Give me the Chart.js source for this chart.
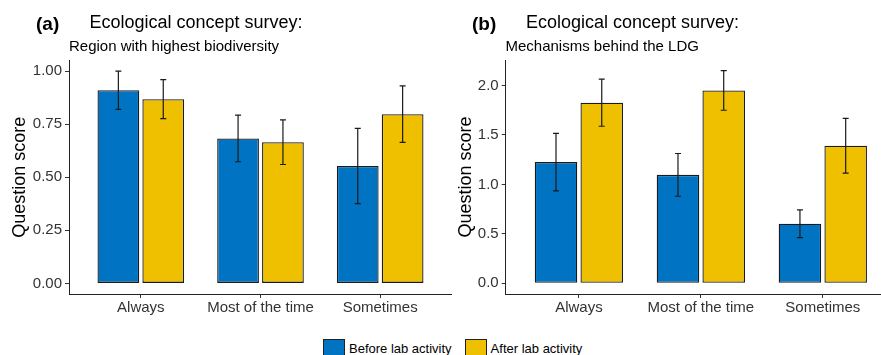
<!DOCTYPE html>
<html>
<head>
<meta charset="utf-8">
<script src="https://cdn.jsdelivr.net/npm/chart.js@4.4.1/dist/chart.umd.min.js"></script>
<style>
  html, body { margin: 0; padding: 0; background: #fff; }
  #fig { position: relative; width: 881px; height: 355px; overflow: hidden; background: #fff;
         font-family: 'Liberation Sans', Arial, sans-serif; color: #000; }
  #fig canvas { position: absolute; top: 0; }
  .txt { position: absolute; white-space: nowrap; line-height: 1; }
  .tag { font-size: 19px; font-weight: bold; }
  .ttl { font-size: 18px; }
  .sub { font-size: 15px; }
  #legend { position: absolute; left: 323px; top: 339px; display: flex; align-items: flex-start; font-size: 13px; line-height: 13px; }
  #legend .item { display: flex; align-items: flex-start; margin-right: 13px; }
  #legend .box { width: 20px; height: 20px; border: 1px solid #222; margin-right: 4px; }
  #legend .lbl { margin-top: 3px; }
</style>
</head>
<body>
<div id="fig">
  <canvas id="chartA" width="452" height="330" style="left:0"></canvas>
  <canvas id="chartB" width="456" height="330" style="left:440px"></canvas>

  <div class="txt tag" style="left:36px;top:14.4px">(a)</div>
  <div class="txt ttl" style="left:89.5px;top:13.1px">Ecological concept survey:</div>
  <div class="txt sub" style="left:69px;top:38px">Region with highest biodiversity</div>

  <div class="txt tag" style="left:472px;top:14.4px">(b)</div>
  <div class="txt ttl" style="left:526px;top:13.1px">Ecological concept survey:</div>
  <div class="txt sub" style="left:505.5px;top:38px">Mechanisms behind the LDG</div>

  <div id="legend"></div>
</div>

<script>
// ---- data ----
const categories = ['Always', 'Most of the time', 'Sometimes'];
const seriesNames = ['Before lab activity', 'After lab activity'];
const seriesColors = ['#0073C2', '#EFC000'];

// (a) Region with highest biodiversity
const beforeA = [0.91, 0.683, 0.553];
const beforeErrA = [0.09, 0.11, 0.177];
const afterA = [0.868, 0.665, 0.797];
const afterErrA = [0.092, 0.105, 0.133];
const yTicksA = [0, 0.25, 0.5, 0.75, 1];
const yTickLabelsA = ['0.00', '0.25', '0.50', '0.75', '1.00'];

// (b) Mechanisms behind the LDG
const beforeB = [1.225, 1.096, 0.603];
const beforeErrB = [0.29, 0.216, 0.14];
const afterB = [1.825, 1.949, 1.39];
const afterErrB = [0.238, 0.2, 0.277];
const yTicksB = [0, 0.5, 1, 1.5, 2];
const yTickLabelsB = ['0.0', '0.5', '1.0', '1.5', '2.0'];

Chart.defaults.font.family = "'Liberation Sans', Arial, sans-serif";

// error bars drawn from the y scale of each chart
const errorBars = {
  id: 'errorBars',
  afterDatasetsDraw(chart) {
    const { ctx } = chart;
    const yScale = chart.scales.y;
    ctx.save();
    ctx.strokeStyle = '#1a1a1a';
    ctx.lineWidth = 1.2;
    chart.data.datasets.forEach((ds, di) => {
      const meta = chart.getDatasetMeta(di);
      meta.data.forEach((bar, i) => {
        const v = ds.data[i].y;
        const e = ds.errors[i];
        const top = yScale.getPixelForValue(v + e);
        const bot = yScale.getPixelForValue(v - e);
        ctx.beginPath();
        ctx.moveTo(bar.x, top); ctx.lineTo(bar.x, bot);
        ctx.moveTo(bar.x - 3, top); ctx.lineTo(bar.x + 3, top);
        ctx.moveTo(bar.x - 3, bot); ctx.lineTo(bar.x + 3, bot);
        ctx.stroke();
      });
    });
    ctx.restore();
  }
};

const toPoints = vals => vals.map((v, i) => ({ x: i + 1, y: v }));

function makePanel(id, before, beforeErr, after, afterErr, yMin, yMax, yTicks, yTickLabels, axisWidth, titlePad, padTop) {
  const ctx = document.getElementById(id).getContext('2d');
  const axisBorder = { display: true, color: '#222', width: 1 };
  const barStyle = { borderColor: '#1a1a1a', borderWidth: 1.3, borderSkipped: false, inflateAmount: 0 };
  return new Chart(ctx, {
    type: 'bar',
    data: {
      datasets: [
        { label: seriesNames[0], data: toPoints(before), errors: beforeErr, backgroundColor: seriesColors[0], ...barStyle },
        { label: seriesNames[1], data: toPoints(after), errors: afterErr, backgroundColor: seriesColors[1], ...barStyle }
      ]
    },
    options: {
      responsive: false,
      animation: false,
      devicePixelRatio: 1,
      categoryPercentage: 0.75,
      barPercentage: 0.93,
      layout: { padding: { top: padTop, right: 0, bottom: 0, left: 0 } },
      plugins: { legend: { display: false }, tooltip: { enabled: false } },
      scales: {
        x: {
          type: 'linear',
          min: 0.4,
          max: 3.6,
          offset: false,
          afterBuildTicks: s => { s.ticks = categories.map((c, i) => ({ value: i + 1 })); },
          afterFit: s => { s.height = 36; },
          ticks: { callback: (v, i) => categories[i], font: { size: 15 }, color: '#333', padding: 1, maxRotation: 0, autoSkip: false },
          grid: { offset: false, drawOnChartArea: false, drawTicks: true, tickLength: 4, color: '#333', tickColor: '#333', lineWidth: 1 },
          border: axisBorder
        },
        y: {
          min: yMin,
          max: yMax,
          afterBuildTicks: s => { s.ticks = yTicks.map(v => ({ value: v })); },
          afterFit: s => { s.width = axisWidth; },
          ticks: { callback: (v, i) => yTickLabels[i], font: { size: 15 }, color: '#333', padding: 3 },
          grid: { drawOnChartArea: false, drawTicks: true, tickLength: 4, color: '#333', tickColor: '#333', lineWidth: 1 },
          border: axisBorder,
          title: { display: true, text: 'Question score', font: { size: 18 }, color: '#000', padding: { top: titlePad, bottom: 0 } }
        }
      }
    },
    plugins: [errorBars]
  });
}

makePanel('chartA', beforeA, beforeErrA, afterA, afterErrA, -0.05, 1.05, yTicksA, yTickLabelsA, 69, 9, 60.5);
makePanel('chartB', beforeB, beforeErrB, afterB, afterErrB, -0.1075, 2.2565, yTicksB, yTickLabelsB, 65.7, 15, 60);

// legend
const legend = document.getElementById('legend');
seriesNames.forEach((name, i) => {
  const item = document.createElement('div');
  item.className = 'item';
  const box = document.createElement('div');
  box.className = 'box';
  box.style.background = seriesColors[i];
  const lbl = document.createElement('div');
  lbl.className = 'lbl';
  lbl.textContent = name;
  item.appendChild(box);
  item.appendChild(lbl);
  legend.appendChild(item);
});
</script>
</body>
</html>
